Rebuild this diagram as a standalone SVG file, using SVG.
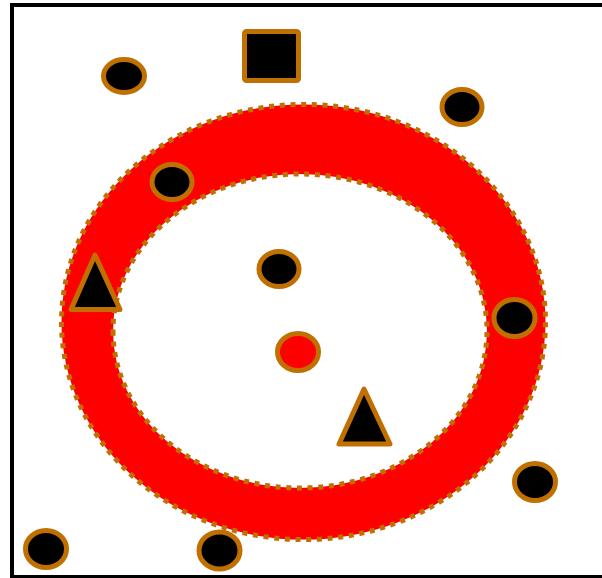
<svg xmlns="http://www.w3.org/2000/svg" width="602" height="578" viewBox="0 0 602 578">
<style>
.node{fill:#000;stroke:#c07000;stroke-width:5;stroke-linejoin:round}
.ring{fill:#ff0000;fill-rule:evenodd;stroke:#c07000;stroke-width:5;stroke-dasharray:5 5.7}
</style>
<rect x="0" y="0" width="602" height="578" fill="#fff"/>
<rect x="12" y="5" width="600" height="572" fill="none" stroke="#000" stroke-width="4"/>
<g id="ring">
<path class="ring" d="M 61.5,322 a 242,217.5 0 1,0 484,0 a 242,217.5 0 1,0 -484,0 Z M 113,331 a 187,157 0 1,0 374,0 a 187,157 0 1,0 -374,0 Z"/>
</g>
<g id="square1"><rect class="node" x="244.5" y="31.5" width="54" height="49" rx="2"/></g>
<g id="circle1"><ellipse class="node" cx="124" cy="76" rx="20.5" ry="16.5"/></g>
<g id="circle2"><ellipse class="node" cx="462" cy="107" rx="20" ry="17.5"/></g>
<g id="circle3"><ellipse class="node" cx="172" cy="182" rx="20" ry="17.5"/></g>
<g id="circle4"><ellipse class="node" cx="279" cy="269" rx="20" ry="17.5"/></g>
<g id="circle5"><ellipse class="node" cx="514.5" cy="318" rx="20.5" ry="18.5"/></g>
<g id="circle6"><ellipse class="node" cx="535" cy="482" rx="20.5" ry="18.5"/></g>
<g id="circle7"><ellipse class="node" cx="46" cy="549" rx="20.5" ry="18.5"/></g>
<g id="circle8"><ellipse class="node" cx="219.5" cy="550.5" rx="20.5" ry="18.5"/></g>
<g id="redCircle"><ellipse class="node" style="fill:#ff0000" cx="298" cy="352" rx="20.5" ry="18.5"/></g>
<g id="triangle1"><polygon class="node" points="95,255 71,309.5 120,309.5"/></g>
<g id="triangle2"><polygon class="node" points="364,389 339,444 390,444"/></g>
</svg>
